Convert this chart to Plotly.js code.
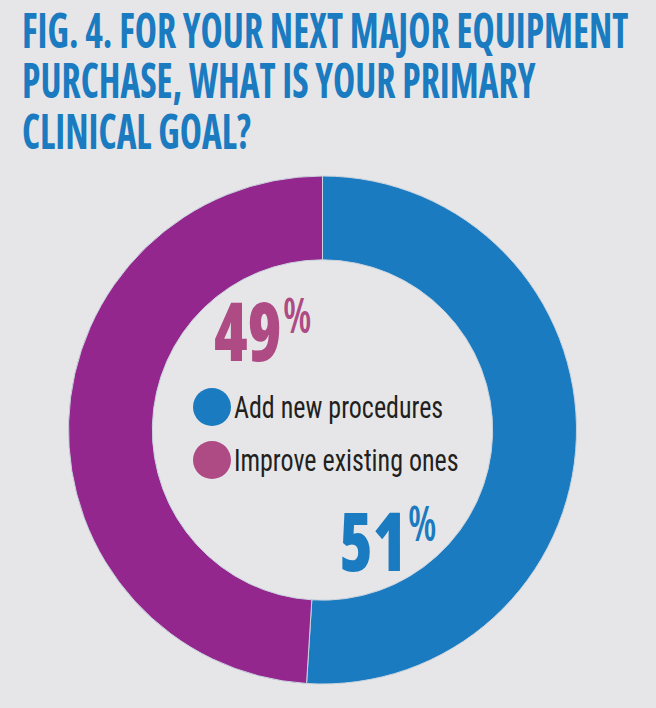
<!DOCTYPE html>
<html>
<head>
<meta charset="utf-8">
<script src="https://cdn.plot.ly/plotly-3.0.1.min.js"></script>
<style>
  html, body { margin: 0; padding: 0; background: #e6e6e8; }
  #chart { width: 656px; height: 708px; }
  text { font-stretch: 75%; }
  .annotation[data-index="0"] text,
  .annotation[data-index="1"] text,
  .annotation[data-index="2"] text { transform-box: fill-box; transform-origin: center; transform: scaleY(1.3); }
  .annotation[data-index="3"] text,
  .annotation[data-index="4"] text,
  .annotation[data-index="5"] text,
  .annotation[data-index="6"] text { transform-box: fill-box; transform-origin: center; transform: scaleY(1.2); }
  .annotation[data-index="7"] text,
  .annotation[data-index="8"] text { transform-box: fill-box; transform-origin: center; transform: scaleY(1.2); }
</style>
</head>
<body>
<div id="chart"></div>
<script>
// ---- data ----
const titleLines = ["FIG. 4. FOR YOUR NEXT MAJOR EQUIPMENT", "PURCHASE, WHAT IS YOUR PRIMARY", "CLINICAL GOAL?"];
const categories = ["Add new procedures", "Improve existing ones"];
const values = [51, 49];

// ---- styles ----
const sliceColors = ["#1a7bc1", "#93278d"];
const labelColors = ["#1a7bc1", "#ae4a84"];
const legendColors = ["#1a7bc1", "#ae4a84"];
const W = 656, H = 708;
const px = x => x / W;
const py = y => 1 - y / H;

const annotations = [];
const shapes = [];

// title lines (indices 0..2)
titleLines.forEach((t, i) => {
  annotations.push({
    text: t, xref: "paper", yref: "paper", x: px(20), y: py(29.5 + i * 50.5),
    xanchor: "left", yanchor: "middle", align: "left", showarrow: false,
    font: { family: "Open Sans", size: 37.5, color: "#1a7bc1", weight: 700 }
  });
});

// percent labels (digits idx 3,4 ; percent sign idx 5,6)
const pctPos = [ { right: 408, cy: 539.5, pcy: 522 }, { right: 283, cy: 329, pcy: 315 } ];
values.forEach((v, i) => {
  annotations.push({
    text: String(v), xref: "paper", yref: "paper", x: px(pctPos[i].right), y: py(pctPos[i].cy),
    xanchor: "right", yanchor: "middle", showarrow: false,
    font: { family: "Open Sans", size: 68, color: labelColors[i], weight: 800 }
  });
});
values.forEach((v, i) => {
  annotations.push({
    text: "%", xref: "paper", yref: "paper", x: px(pctPos[i].right - 2), y: py(pctPos[i].pcy),
    xanchor: "left", yanchor: "middle", showarrow: false,
    font: { family: "Open Sans", size: 40, color: labelColors[i], weight: 600 }
  });
});

// legend inside the hole (text idx 7,8)
categories.forEach((c, i) => {
  const cy = 407 + i * 53;
  shapes.push({
    type: "circle", xref: "paper", yref: "paper",
    xsizemode: "pixel", ysizemode: "pixel",
    xanchor: px(212), yanchor: py(cy), x0: -19, x1: 19, y0: -19, y1: 19,
    fillcolor: legendColors[i], line: { width: 0 }
  });
  annotations.push({
    text: c, xref: "paper", yref: "paper", x: px(232), y: py(cy),
    xanchor: "left", yanchor: "middle", align: "left", showarrow: false,
    font: { family: "Roboto Condensed", size: 26, color: "#231f20", weight: 400 }
  });
});

const trace = {
  type: "pie",
  labels: categories,
  values: values,
  sort: false,
  direction: "clockwise",
  rotation: 0,
  hole: 0.67,
  textinfo: "none",
  hoverinfo: "none",
  showlegend: false,
  marker: { colors: sliceColors, line: { color: "#c9d4de", width: 1 } },
  domain: { x: [px(68.5), px(576.5)], y: [24 / H, 532 / H] }
};

const layout = {
  width: W, height: H,
  margin: { l: 0, r: 0, t: 0, b: 0 },
  paper_bgcolor: "#e6e6e8",
  plot_bgcolor: "#e6e6e8",
  showlegend: false,
  annotations: annotations,
  shapes: shapes
};

Plotly.newPlot("chart", [trace], layout, { staticPlot: true, displayModeBar: false });
</script>
</body>
</html>
